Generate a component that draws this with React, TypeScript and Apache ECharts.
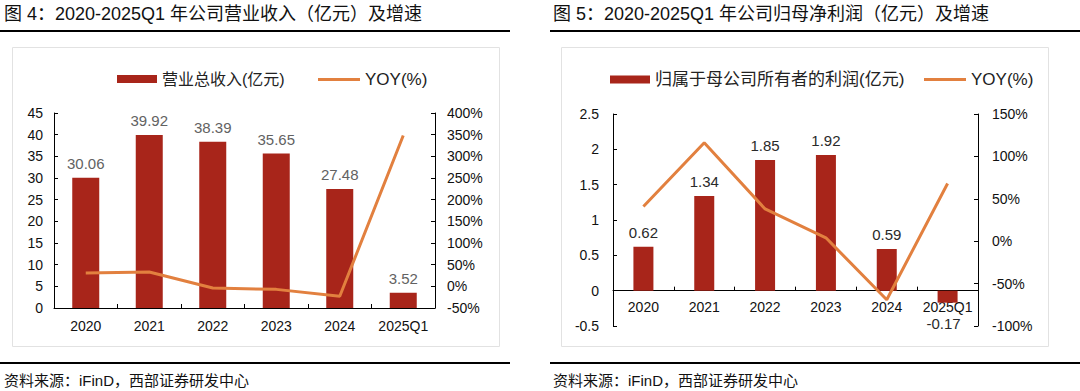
import { useEffect, useRef } from 'react';
import * as echarts from 'echarts';

const categories = ['2020', '2021', '2022', '2023', '2024', '2025Q1'];
const revenue = [30.06, 39.92, 38.39, 35.65, 27.48, 3.52];
const revenueYoy = [31, 33, -4, -7, -23, 348];
const profit = [0.62, 1.34, 1.85, 1.92, 0.59, -0.17];
const profitYoy = [41, 116, 38, 4, -69, 68];

const leftTitle = '图 4：2020-2025Q1 年公司营业收入（亿元）及增速';
const rightTitle = '图 5：2020-2025Q1 年公司归母净利润（亿元）及增速';
const sourceText = '资料来源：iFinD，西部证券研发中心';
const revenueName = '营业总收入(亿元)';
const profitName = '归属于母公司所有者的利润(亿元)';
const yoyName = 'YOY(%)';

const FONT = '"Liberation Sans", Arial, "Noto Sans CJK SC", sans-serif';
const RED = '#A8251A';
const ORANGE = '#E2803F';
const AXIS = '#000';

// right grid geometry (used to place the x axis at the zero line)
const R_TOP = 114;
const R_BOTTOM = 65;
const R_HEIGHT = 391 - R_TOP - R_BOTTOM;
const R_MIN = -0.5;
const R_MAX = 2.5;

export default function App() {
  const ref = useRef<HTMLDivElement>(null);
  useEffect(() => {
    if (!ref.current) return;
    const chart = echarts.init(ref.current, null, { renderer: 'svg' });
    const axisCommon = {
      axisLine: { show: true, lineStyle: { color: AXIS, width: 1 } },
      axisTick: { show: true, inside: true, length: 4, lineStyle: { color: AXIS } },
      splitLine: { show: false },
    };
    const zeroOffset = -((0 - R_MIN) / (R_MAX - R_MIN)) * R_HEIGHT;
    const legendText = { fontSize: 16, color: '#222', fontFamily: FONT };
    const xLabel = { fontSize: 14, color: '#111', margin: 11, fontFamily: FONT, interval: 0, hideOverlap: false };
    const option: any = {
      animation: false,
      backgroundColor: '#fff',
      textStyle: { fontFamily: FONT },
      grid: [
        { left: 54, right: 645, top: 113, bottom: 83 },
        { left: 613, right: 102, top: R_TOP, bottom: R_BOTTOM },
      ],
      legend: [
        { left: 112, top: 66, data: [revenueName], itemWidth: 40, itemHeight: 8, icon: 'rect', textStyle: legendText },
        { left: 313, top: 66, data: [yoyName], itemWidth: 42, itemHeight: 3, icon: 'rect', textStyle: { ...legendText, fontSize: 17 } },
        { left: 605, top: 66, data: [profitName], itemWidth: 40, itemHeight: 8, icon: 'rect', textStyle: { ...legendText, fontSize: 17 } },
        { left: 919, top: 66, data: [yoyName], itemWidth: 42, itemHeight: 3, icon: 'rect', textStyle: { ...legendText, fontSize: 17 } },
      ],
      xAxis: [
        { type: 'category', gridIndex: 0, data: categories, boundaryGap: true, ...axisCommon,
          axisTick: { show: true, inside: true, length: 4, interval: 0, lineStyle: { color: AXIS } },
          axisLabel: xLabel },
        { type: 'category', gridIndex: 1, data: categories, boundaryGap: true, ...axisCommon,
          offset: zeroOffset,
          axisLine: { show: true, onZero: false, lineStyle: { color: AXIS } },
          axisTick: { show: true, inside: true, length: 4, interval: 0, lineStyle: { color: AXIS } },
          axisLabel: { ...xLabel, margin: 9 } },
      ],
      yAxis: [
        { type: 'value', gridIndex: 0, min: 0, max: 45, interval: 5, position: 'left', ...axisCommon,
          axisLabel: { fontSize: 14, color: '#111', margin: 11, fontFamily: FONT } },
        { type: 'value', gridIndex: 0, min: -50, max: 400, interval: 50, position: 'right', ...axisCommon,
          axisLabel: { fontSize: 14, color: '#111', margin: 12, formatter: '{value}%', fontFamily: FONT } },
        { type: 'value', gridIndex: 1, min: R_MIN, max: R_MAX, interval: 0.5, position: 'left', ...axisCommon,
          axisLabel: { fontSize: 14, color: '#111', margin: 14, fontFamily: FONT } },
        { type: 'value', gridIndex: 1, min: -100, max: 150, interval: 50, position: 'right', ...axisCommon,
          axisLabel: { fontSize: 14, color: '#111', margin: 14, formatter: '{value}%', fontFamily: FONT } },
      ],
      series: [
        { name: revenueName, type: 'bar', xAxisIndex: 0, yAxisIndex: 0, data: revenue, barWidth: 27,
          itemStyle: { color: RED },
          label: { show: true, position: 'top', distance: 7, fontSize: 15, color: '#626262', fontFamily: FONT } },
        { name: yoyName, type: 'line', xAxisIndex: 0, yAxisIndex: 1, data: revenueYoy, symbol: 'none',
          lineStyle: { color: ORANGE, width: 3 }, itemStyle: { color: ORANGE }, z: 5 },
        { name: profitName, type: 'bar', xAxisIndex: 1, yAxisIndex: 2, barWidth: 20,
          data: profit.map((v) => ({
            value: v,
            label: v < 0 ? { position: 'bottom', distance: 13, offset: [-4, 0] } : { position: 'top' },
          })),
          itemStyle: { color: RED },
          label: { show: true, distance: 7, fontSize: 15, color: '#2a2a2a', fontFamily: FONT } },
        { name: yoyName, type: 'line', xAxisIndex: 1, yAxisIndex: 3, data: profitYoy, symbol: 'none',
          lineStyle: { color: ORANGE, width: 3 }, itemStyle: { color: ORANGE }, z: 5 },
      ],
      graphic: [
        { type: 'text', left: 4, top: 5, style: { text: leftTitle, fontSize: 18, fill: '#111', fontFamily: FONT } },
        { type: 'line', shape: { x1: 0, y1: 31, x2: 510, y2: 31 }, style: { stroke: '#000', lineWidth: 2 } },
        { type: 'rect', shape: { x: 12.5, y: 47.5, width: 487, height: 299 }, style: { fill: 'none', stroke: '#e2e2e2', lineWidth: 1 }, z: -1 },
        { type: 'line', shape: { x1: 0, y1: 363, x2: 510, y2: 363 }, style: { stroke: '#000', lineWidth: 2 } },
        { type: 'text', left: 4, top: 373, style: { text: sourceText, fontSize: 15, fill: '#111', fontFamily: FONT } },

        { type: 'text', left: 553, top: 5, style: { text: rightTitle, fontSize: 18, fill: '#111', fontFamily: FONT } },
        { type: 'line', shape: { x1: 550, y1: 31, x2: 1080, y2: 31 }, style: { stroke: '#000', lineWidth: 2 } },
        { type: 'rect', shape: { x: 561.5, y: 47.5, width: 487, height: 299 }, style: { fill: 'none', stroke: '#e2e2e2', lineWidth: 1 }, z: -1 },
        { type: 'line', shape: { x1: 550, y1: 363, x2: 1080, y2: 363 }, style: { stroke: '#000', lineWidth: 2 } },
        { type: 'text', left: 553, top: 373, style: { text: sourceText, fontSize: 15, fill: '#111', fontFamily: FONT } },
      ],
    };
    chart.setOption(option);
    return () => chart.dispose();
  }, []);
  return (
    <div
      ref={ref}
      style={{ position: 'absolute', left: 0, top: 0, width: 1080, height: 391, background: '#fff' }}
    />
  );
}
